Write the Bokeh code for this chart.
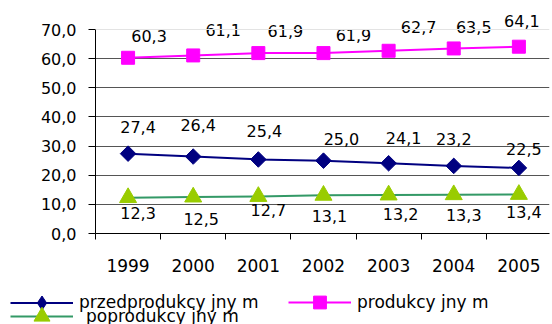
from bokeh.plotting import figure
from bokeh.layouts import column
from bokeh.models import (Range1d, FixedTicker, Span, Legend, LegendItem, ColumnDataSource)
from bokeh.core.properties import value
from bokeh.embed import file_html
from bokeh.resources import INLINE

years = ["1999", "2000", "2001", "2002", "2003", "2004", "2005"]
przed = [27.4, 26.4, 25.4, 25.0, 24.1, 23.2, 22.5]
prod = [60.3, 61.1, 61.9, 61.9, 62.7, 63.5, 64.1]
popr = [12.3, 12.5, 12.7, 13.1, 13.2, 13.3, 13.4]
names = ["przedprodukcy jny m", "produkcy jny m", "poprodukcy jny m"]
y_ticks = [0, 10, 20, 30, 40, 50, 60, 70]
Y_MAX = 70

# label placement (screen px) – style only
przed_dx = [10, 5, 6, 18, 15, 0, 5]
przed_dy = [-27, -32, -28, -22, -25, -27, -19]
prod_dx = [21, 30, 27, 30, 30, 20, 3]
prod_dy = [-22, -25, -22, -18, -24, -21, -26]
popr_dx = [10, 8, 10, 6, 12, 10, 5]
popr_dy = [15, 22, 14, 21, 19, 20, 18]

FONT = "DejaVu Sans"
xs = list(range(len(years)))

STY = [dict(line_color="#000080", marker="square", angle=0.785398, size=11,
            fill_color="#000080", mline="#000080", lmarker="diamond"),
       dict(line_color="#FF00FF", marker="square", angle=0.0, size=13,
            fill_color="#FF00FF", mline="#FF00FF", lmarker="square"),
       dict(line_color="#339966", marker="triangle", angle=0.0, size=17,
            fill_color="#99CC00", mline="#99CC00", lmarker="triangle")]

# frame: 70 at y=29, 0 at y=233 -> extend the frame to y=5 so labels above 70 are not clipped
px_per_unit = (233 - 29) / Y_MAX
y_top = Y_MAX + (29 - 5) / px_per_unit

p = figure(width=551, height=285, output_backend="svg", toolbar_location=None,
           x_range=Range1d(-0.5, 6.47), y_range=Range1d(0, y_top),
           min_border_left=95, min_border_right=2, min_border_top=5, min_border_bottom=52)
p.frame_align = False
p.outline_line_color = None
p.background_fill_color = "white"
p.border_fill_color = "white"

# grid
p.xgrid.visible = False
p.ygrid.ticker = FixedTicker(ticks=y_ticks[:-1])
p.ygrid.grid_line_color = "#555555"
p.ygrid.grid_line_width = 1
p.add_layout(Span(location=Y_MAX, dimension="width", line_color="#e3e3e3", line_width=1))

# y axis
p.yaxis.bounds = (0, Y_MAX)
p.yaxis.ticker = FixedTicker(ticks=y_ticks)
p.yaxis.major_label_overrides = {t: f"{t},0" for t in y_ticks}
p.yaxis.axis_line_color = "black"
p.yaxis.major_tick_line_color = "black"
p.yaxis.major_tick_out = 7
p.yaxis.major_tick_in = 0
p.yaxis.minor_tick_line_color = None
p.yaxis.major_label_standoff = 12
p.yaxis.major_label_text_font = FONT
p.yaxis.major_label_text_font_size = "16px"
p.yaxis.major_label_text_color = "black"

# x axis
p.xaxis.ticker = FixedTicker(ticks=xs, minor_ticks=[i - 0.5 for i in range(len(years) + 1)])
p.xaxis.major_label_overrides = {i: y for i, y in enumerate(years)}
p.xaxis.axis_line_color = "black"
p.xaxis.major_tick_line_color = None
p.xaxis.major_tick_out = 0
p.xaxis.major_tick_in = 0
p.xaxis.minor_tick_line_color = "black"
p.xaxis.minor_tick_out = 6
p.xaxis.minor_tick_in = 0
p.xaxis.major_label_standoff = 19
p.xaxis.major_label_text_font = FONT
p.xaxis.major_label_text_font_size = "17px"
p.xaxis.major_label_text_color = "black"

def fmt(v):
    return f"{v:.1f}".replace(".", ",")

series = [przed, prod, popr]
for vals, dx, dy, s in [(przed, przed_dx, przed_dy, STY[0]), (prod, prod_dx, prod_dy, STY[1]),
                        (popr, popr_dx, popr_dy, STY[2])]:
    p.line(xs, vals, line_color=s["line_color"], line_width=2)
    p.scatter(xs, vals, marker=s["marker"], angle=s["angle"], size=s["size"],
              fill_color=s["fill_color"], line_color=s["mline"])
    src = ColumnDataSource(dict(x=xs, y=vals, t=[fmt(v) for v in vals], dx=dx, dy=dy))
    p.text(x="x", y="y", text="t", x_offset="dx", y_offset="dy", source=src,
           text_font=value(FONT), text_font_size="16px", text_color="black",
           text_align="center", text_baseline="middle")

# legend panel (separate small figure; its ranges hide the series, only the legend shows)
lg = figure(width=551, height=39, output_backend="svg", toolbar_location=None,
            x_axis_type=None, y_axis_type=None, x_range=Range1d(100, 101), y_range=Range1d(100, 101),
            min_border=0)
lg.frame_align = False
lg.outline_line_color = None
lg.xgrid.visible = False
lg.ygrid.visible = False

legend_spec = [  # (location, glyph box height -> marker size, label standoff)
    ((10, 4.5), 35, 6),
    ((288, 6), 32, 6),
    ((10, -12), 40, 13),
]
for name, s, vals, (loc, gh, so) in zip(names, STY, series, legend_spec):
    r1 = lg.line(xs, vals, line_color=s["line_color"], line_width=2)
    r2 = lg.scatter(xs, vals, marker=s["lmarker"], size=s["size"],
                    fill_color=s["fill_color"], line_color=s["mline"])
    L = Legend(items=[LegendItem(label=name, renderers=[r1, r2])], location=loc,
               orientation="horizontal")
    L.glyph_width = 63
    L.glyph_height = gh
    L.label_height = gh
    L.label_standoff = so
    L.spacing = 0
    L.padding = 0
    L.margin = 0
    L.border_line_color = None
    L.background_fill_alpha = 0
    L.label_text_font = FONT
    L.label_text_font_size = "17px"
    L.label_text_color = "black"
    L.label_text_baseline = "middle"
    lg.add_layout(L, "center")

layout = column(p, lg, spacing=0)
open("out.html", "w").write(file_html(layout, INLINE))
